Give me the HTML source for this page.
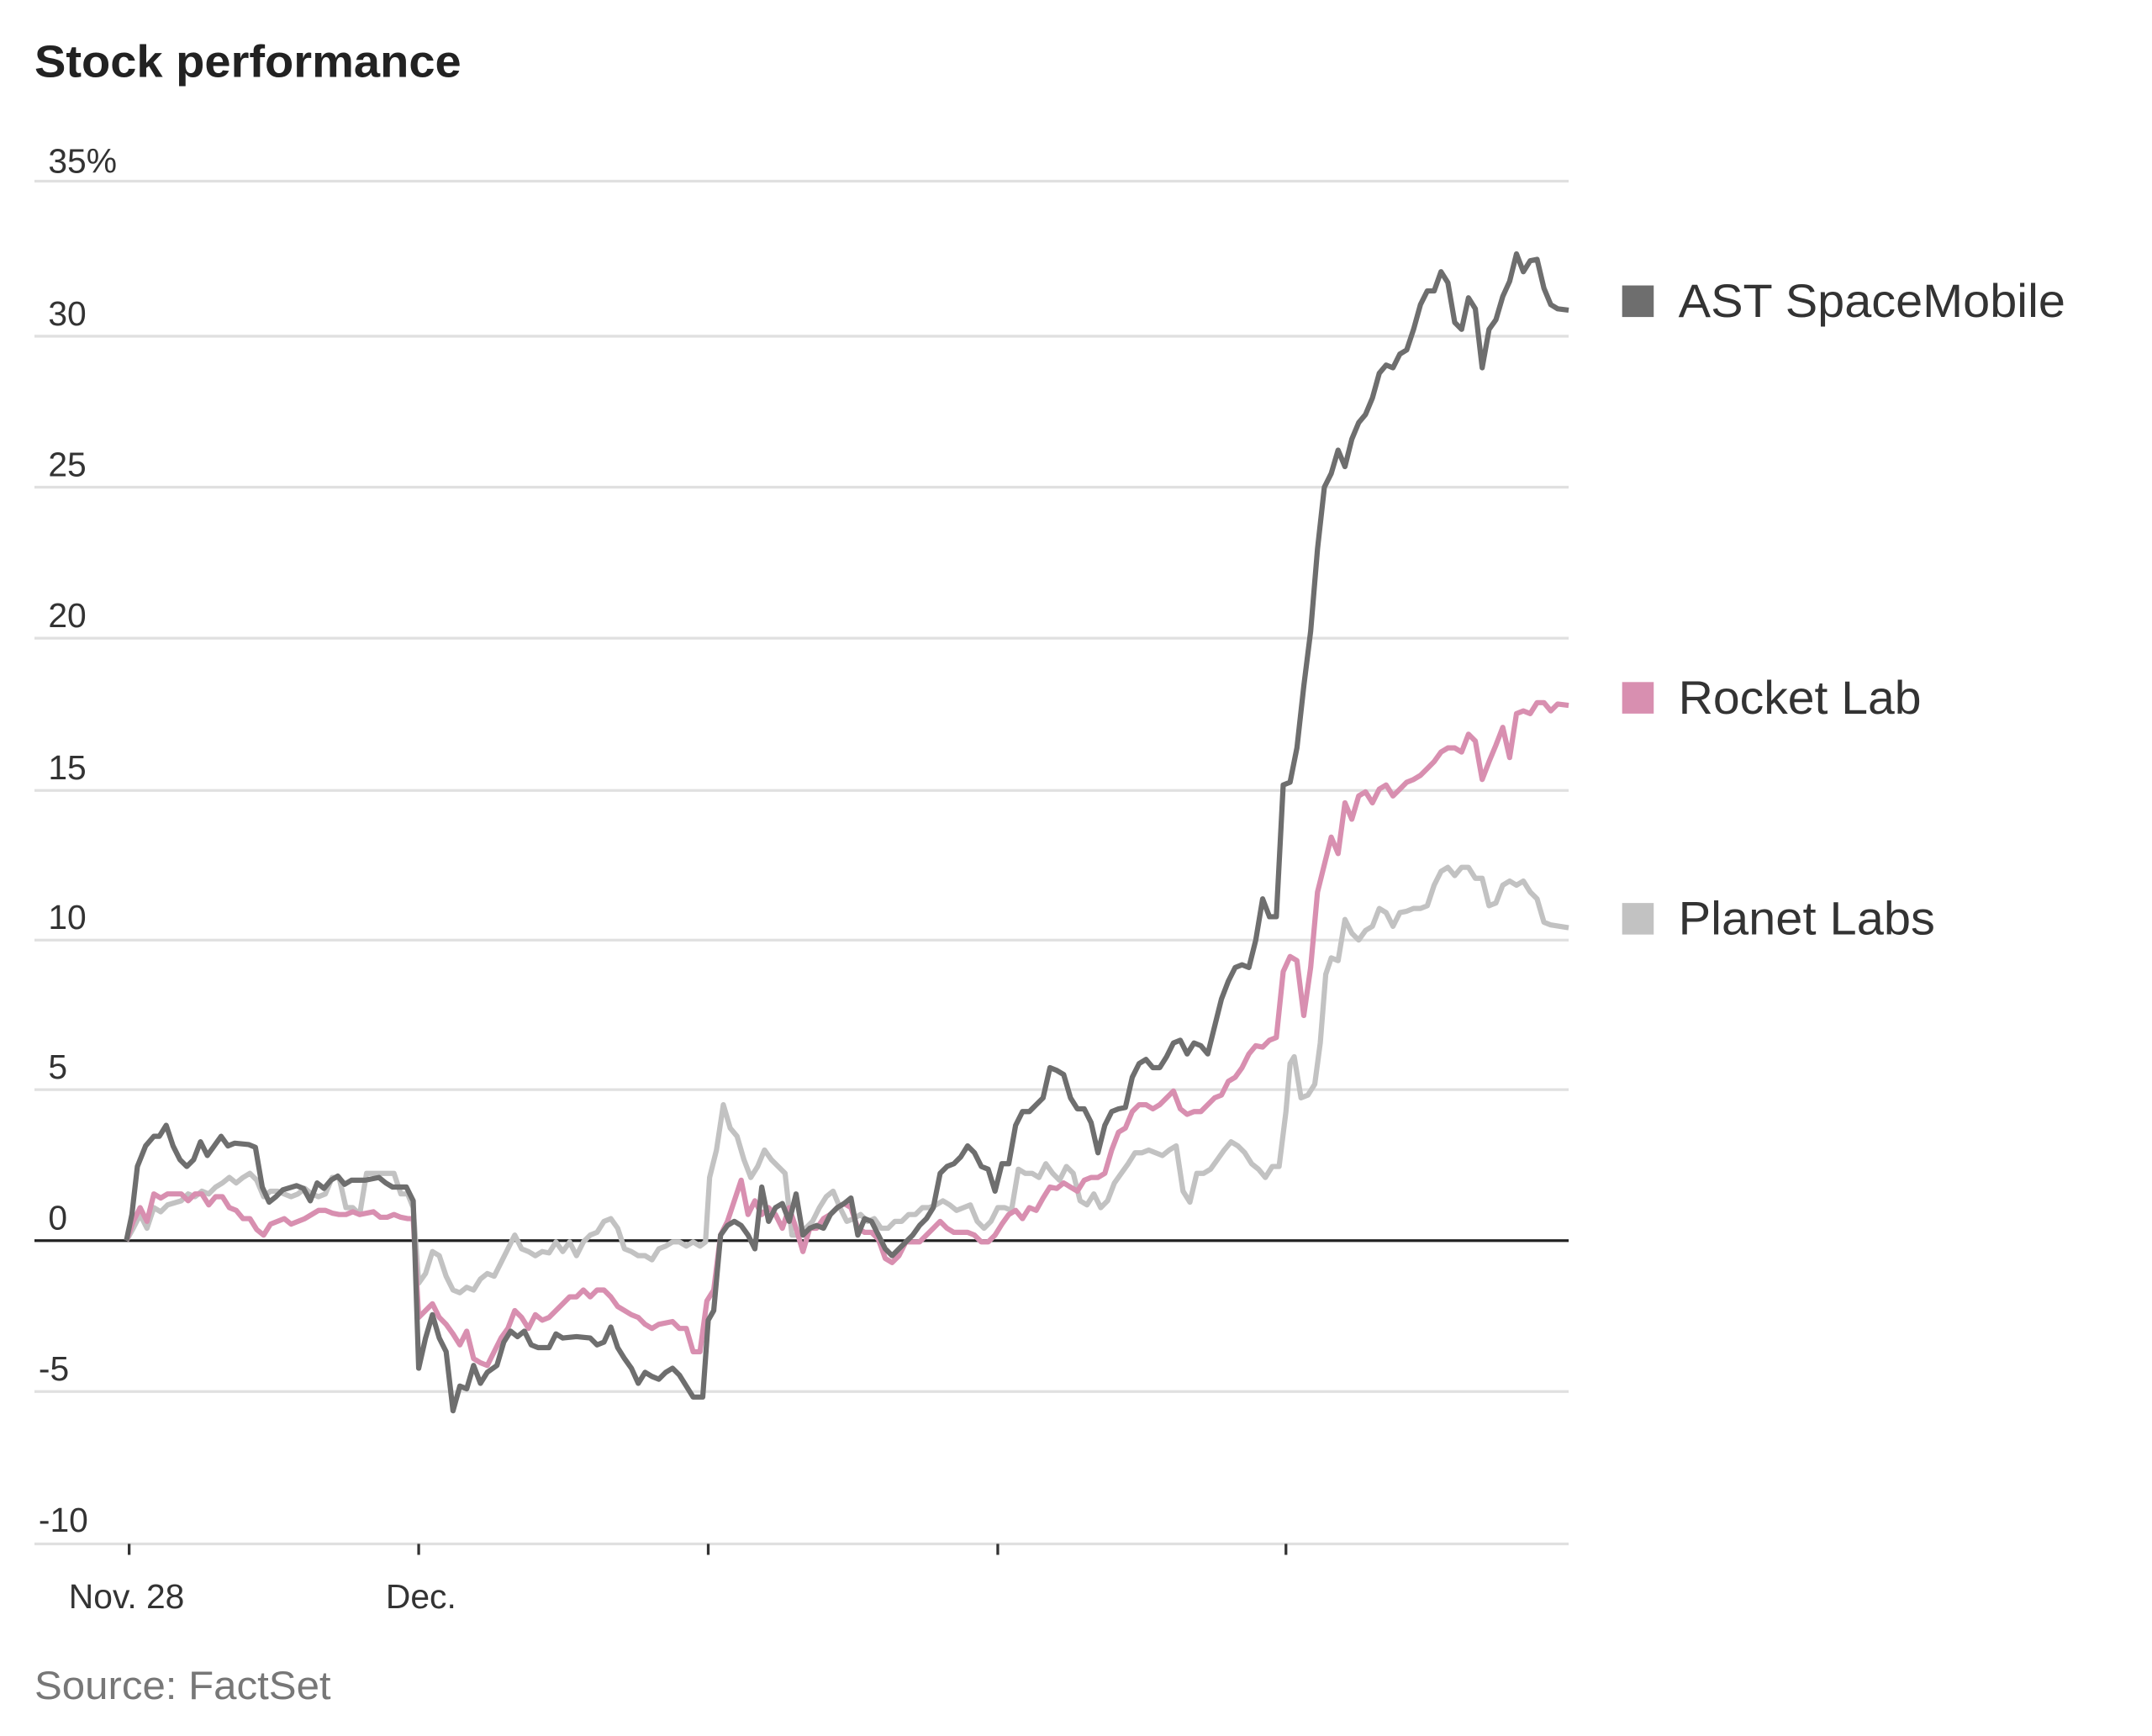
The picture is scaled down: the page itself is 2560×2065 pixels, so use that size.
<!DOCTYPE html>
<html><head><meta charset="utf-8"><style>
html,body{margin:0;padding:0;background:#fff;}
svg{display:block;}
</style></head><body>
<svg width="2560" height="2065" viewBox="0 0 1568 1265" xmlns="http://www.w3.org/2000/svg" font-family="'Liberation Sans', sans-serif">
<rect width="1568" height="1265" fill="#fff"/>
<text x="25" y="56" font-size="33" font-weight="bold" fill="#222" textLength="311" lengthAdjust="spacingAndGlyphs">Stock performance</text>
<g stroke="#e0e0e0" stroke-width="2">
<line x1="25" x2="1143" y1="132" y2="132"/><line x1="25" x2="1143" y1="245" y2="245"/>
<line x1="25" x2="1143" y1="355" y2="355"/><line x1="25" x2="1143" y1="465" y2="465"/>
<line x1="25" x2="1143" y1="576" y2="576"/><line x1="25" x2="1143" y1="685" y2="685"/>
<line x1="25" x2="1143" y1="794" y2="794"/><line x1="25" x2="1143" y1="1014" y2="1014"/>
<line x1="25" x2="1143" y1="1125" y2="1125"/>
</g>
<line x1="25" x2="1143" y1="904" y2="904" stroke="#222" stroke-width="2"/>
<g font-size="25" fill="#333">
<text x="35" y="126">35%</text><text x="35" y="237">30</text><text x="35" y="347">25</text>
<text x="35" y="457">20</text><text x="35" y="568">15</text><text x="35" y="677">10</text>
<text x="35" y="786">5</text><text x="35" y="896">0</text><text x="28" y="1006">-5</text>
<text x="28" y="1116">-10</text>
<text x="50" y="1172">Nov. 28</text><text x="281" y="1172">Dec.</text>
</g>
<g stroke="#333" stroke-width="2">
<line x1="94" x2="94" y1="1125" y2="1133"/><line x1="305" x2="305" y1="1125" y2="1133"/>
<line x1="516" x2="516" y1="1125" y2="1133"/><line x1="727" x2="727" y1="1125" y2="1133"/>
<line x1="937" x2="937" y1="1125" y2="1133"/>
</g>
<g fill="none" stroke-width="3.8" stroke-linejoin="round">
<polyline stroke="#c2c2c2" points="92,904 97,895 102,885 107,895 112,880 117,883 122,878 132,875 137,870 142,872 147,868 152,870 157,865 162,862 167,858 172,862 177,858 182,855 187,860 192,872 197,868 202,868 207,870 212,872 217,870 222,866 227,870 232,872 237,870 242,858 247,858 252,880 257,880 262,885 267,855 272,855 282,855 287,855 292,870 297,870 301,880 305,935 310,928 315,912 320,915 325,930 330,940 335,942 340,938 345,940 350,932 355,928 360,930 365,920 370,910 375,900 380,910 385,912 390,915 395,912 400,913 405,905 410,912 415,905 420,915 425,905 430,900 435,898 440,890 445,888 450,895 455,910 460,912 465,915 470,915 475,918 480,910 485,908 490,905 495,905 500,908 505,905 510,908 514,905 517,858 522,838 527,805 532,822 537,828 542,845 547,858 552,850 557,838 562,845 567,850 572,855 577,900 582,900 587,895 592,890 597,880 602,872 607,868 612,880 617,890 622,888 627,885 632,890 637,888 642,895 647,895 652,890 657,890 662,885 667,885 672,880 677,880 682,878 687,875 692,878 697,882 702,880 707,878 712,890 717,895 722,890 727,880 732,880 737,882 742,852 747,855 752,855 757,858 762,848 767,855 772,860 777,850 782,855 787,875 792,878 797,870 802,880 807,875 812,862 817,855 822,848 827,840 832,840 837,838 842,840 847,842 852,838 857,835 862,868 867,876 872,855 877,855 882,852 887,845 892,838 897,832 902,835 907,840 912,848 917,852 922,858 927,850 932,850 937,810 940,775 943,770 948,800 953,798 958,790 962,760 966,710 970,698 975,700 980,670 985,680 990,685 995,678 1000,675 1005,662 1010,665 1015,675 1020,665 1025,664 1030,662 1035,662 1040,660 1045,645 1050,635 1055,632 1060,638 1065,632 1070,632 1075,640 1080,640 1085,660 1090,658 1095,645 1100,642 1105,645 1110,642 1115,650 1120,655 1125,672 1130,674 1143,676"/>
<polyline stroke="#d88fb0" points="92,904 97,890 102,880 107,890 112,870 117,873 122,870 132,870 137,875 142,870 147,870 152,878 157,872 162,872 167,880 172,882 177,888 182,888 187,896 192,900 197,892 202,890 207,888 212,892 217,890 222,888 227,885 232,882 237,882 242,884 247,885 252,885 257,883 262,885 272,883 277,887 282,887 287,885 292,887 297,888 301,888 305,960 310,955 315,950 320,960 325,965 330,972 335,980 340,970 345,990 350,993 355,995 360,985 365,975 370,968 375,955 380,960 385,968 390,958 395,962 400,960 405,955 410,950 415,945 420,945 425,940 430,945 435,940 440,940 445,945 450,952 455,955 460,958 465,960 470,965 475,968 480,965 490,963 495,968 500,968 505,985 510,985 515,948 520,940 525,900 530,890 535,875 540,860 545,885 550,875 555,885 560,880 565,885 570,895 575,880 580,895 585,912 590,895 595,895 600,888 605,885 610,880 615,877 620,880 625,895 630,898 635,898 640,903 645,917 650,920 655,915 660,905 665,905 670,905 675,900 680,895 685,890 690,895 695,898 700,898 705,898 710,900 715,905 720,905 725,900 730,892 735,885 740,882 745,888 750,880 755,882 760,873 765,865 770,866 775,862 780,865 785,868 790,860 795,858 800,858 805,855 810,838 815,825 820,822 825,810 830,805 835,805 840,808 845,805 850,800 855,795 860,808 865,812 870,810 875,810 880,805 885,800 890,798 895,788 900,785 905,778 910,768 915,762 920,763 925,758 930,756 935,708 940,697 945,700 950,740 955,705 960,650 965,630 970,610 975,622 980,585 985,597 990,580 995,577 1000,585 1005,575 1010,572 1015,580 1020,575 1025,570 1030,568 1035,565 1040,560 1045,555 1050,548 1055,545 1060,545 1065,548 1070,535 1075,540 1080,568 1085,555 1090,543 1095,530 1100,552 1105,520 1110,518 1115,520 1120,512 1125,512 1130,518 1135,513 1143,514"/>
<polyline stroke="#6e6e6e" points="92,904 96,885 100,850 106,835 112,828 116,828 121,820 126,835 131,845 136,850 141,845 146,832 151,842 156,835 161,828 166,835 171,833 181,834 186,836 191,865 196,876 201,872 206,867 216,864 221,866 226,875 231,862 236,866 241,860 246,857 251,863 256,860 266,860 276,858 281,862 286,865 296,865 301,875 305,997 310,975 315,958 320,975 325,985 330,1028 335,1010 340,1012 345,995 350,1008 355,1000 362,995 367,978 372,970 377,974 382,970 387,980 392,982 400,982 405,972 410,975 420,974 430,975 435,980 440,978 445,967 450,982 455,990 460,997 465,1008 470,1000 475,1003 480,1005 485,1000 490,997 495,1002 500,1010 505,1018 512,1018 516,962 520,955 525,900 530,893 535,890 540,893 545,900 550,910 555,865 560,890 565,880 570,877 575,890 580,870 585,900 590,895 595,893 600,895 605,885 610,880 615,877 620,873 625,900 630,888 635,890 640,900 645,910 650,915 655,910 660,905 665,900 670,893 675,888 680,880 685,855 690,850 695,848 700,843 705,835 710,840 715,850 720,852 725,868 730,848 735,848 740,820 745,810 750,810 755,805 760,800 765,778 770,780 775,783 780,800 785,808 790,808 795,818 800,840 805,820 810,810 815,808 820,807 825,785 830,775 835,772 840,778 845,778 850,770 855,760 860,758 865,768 870,760 875,762 880,768 885,748 890,728 895,715 900,705 905,703 910,705 915,685 920,655 925,668 930,668 935,572 940,570 945,545 950,500 955,460 960,400 965,355 970,345 975,328 980,340 985,320 990,308 995,302 1000,290 1005,272 1010,266 1015,268 1020,258 1025,255 1030,240 1035,222 1040,212 1045,212 1050,198 1055,206 1060,235 1065,240 1070,217 1075,225 1080,268 1085,240 1090,233 1095,216 1100,205 1105,185 1110,198 1115,190 1120,189 1125,210 1130,222 1135,225 1143,226"/>
</g>
<rect x="1182" y="208" width="23" height="23" fill="#6e6e6e"/>
<rect x="1182" y="497" width="23" height="23" fill="#d88fb0"/>
<rect x="1182" y="658" width="23" height="23" fill="#c2c2c2"/>
<g font-size="34" fill="#333">
<text x="1223" y="231" textLength="282" lengthAdjust="spacingAndGlyphs">AST SpaceMobile</text>
<text x="1223" y="520" textLength="177" lengthAdjust="spacingAndGlyphs">Rocket Lab</text>
<text x="1223" y="681" textLength="187" lengthAdjust="spacingAndGlyphs">Planet Labs</text>
</g>
<text x="25" y="1238" font-size="29" fill="#777" textLength="216" lengthAdjust="spacingAndGlyphs">Source: FactSet</text>
</svg>
</body></html>
